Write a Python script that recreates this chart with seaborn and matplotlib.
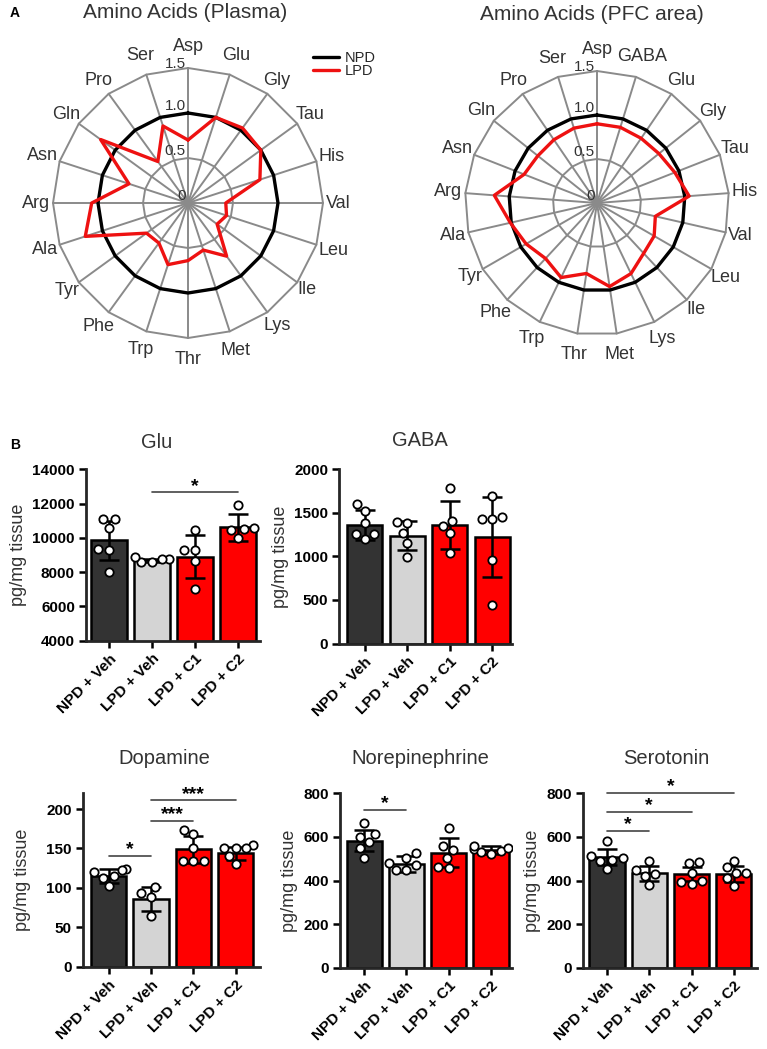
import numpy as np
import pandas as pd
import matplotlib
matplotlib.use('Agg')
import matplotlib.pyplot as plt
from matplotlib.lines import Line2D
import seaborn as sns

# ---------------- data ----------------
plasma_labels = ['Asp', 'Glu', 'Gly', 'Tau', 'His', 'Val', 'Leu', 'Ile', 'Lys', 'Met',
                 'Thr', 'Trp', 'Phe', 'Tyr', 'Ala', 'Arg', 'Asn', 'Gln', 'Pro', 'Ser']
plasma_npd = [1.0, 1.0, 1.0, 1.0, 1.0, 1.0, 1.0, 1.0, 1.0, 1.0,
              1.0, 1.0, 1.0, 1.0, 1.0, 1.0, 1.0, 1.0, 1.0, 1.0]
plasma_lpd = [0.70, 1.00, 1.03, 1.00, 0.84, 0.42, 0.45, 0.40, 0.73, 0.55,
              0.64, 0.72, 0.55, 0.57, 1.20, 1.07, 0.69, 1.20, 0.57, 0.90]

pfc_labels = ['Asp', 'GABA', 'Glu', 'Gly', 'Tau', 'His', 'Val', 'Leu', 'Ile', 'Lys', 'Met',
              'Thr', 'Trp', 'Phe', 'Tyr', 'Ala', 'Arg', 'Asn', 'Gln', 'Pro', 'Ser']
pfc_npd = [1.0, 1.0, 1.0, 1.0, 1.0, 1.0, 1.0, 1.0, 1.0, 1.0, 1.0,
           1.0, 1.0, 1.0, 1.0, 1.0, 1.0, 1.0, 1.0, 1.0, 1.0]
pfc_lpd = [0.90, 0.90, 0.89, 0.90, 0.95, 1.05, 0.68, 0.75, 0.78, 0.89, 0.96,
           0.81, 0.94, 0.86, 0.93, 1.01, 1.17, 0.89, 0.86, 0.87, 0.89]

groups = ['NPD + Veh', 'LPD + Veh', 'LPD + C1', 'LPD + C2']
bar_colors = ['#333333', '#d4d4d4', '#ff0000', '#ff0000']

glu_mean = [9850, 8680, 8900, 10620]
glu_sd = [1150, 100, 1250, 780]
glu_pts = [[11100, 11100, 10600, 9350, 9300, 8000],
           [8580, 8850, 8780, 8780, 8560],
           [10430, 9270, 9270, 8640, 7030],
           [11900, 10450, 10600, 10500, 10000]]
glu_sig = [(1, 3, 12650, '*')]

gaba_mean = [1362, 1238, 1362, 1227]
gaba_sd = [172, 170, 272, 458]
gaba_pts = [[1517, 1598, 1379, 1256, 1195, 1256],
            [1400, 1380, 1267, 1159, 993],
            [1782, 1353, 1411, 1267, 1037],
            [1695, 1428, 1457, 1428, 957, 437]]
gaba_sig = []

da_mean = [115, 86, 149, 144]
da_sd = [9, 15.5, 17, 8]
da_pts = [[120, 124, 123, 115, 113, 102],
          [101, 93, 89, 64],
          [168, 173, 151, 134, 134, 134],
          [150, 154, 151, 151, 140, 130]]
da_sig = [(0, 1, 141, '*'), (1, 2, 185, '***'), (1, 3, 211, '***')]

ne_mean = [583, 476, 528, 540]
ne_sd = [47, 35, 67, 18]
ne_pts = [[662, 612, 600, 575, 548, 505],
          [525, 505, 480, 470, 450, 448],
          [640, 558, 540, 502, 460, 456],
          [545, 560, 520, 530, 535, 550]]
ne_sig = [(0, 1, 724, '*')]

ser_mean = [506, 433, 430, 430]
ser_sd = [37, 34, 31, 36]
ser_pts = [[580, 512, 505, 495, 490, 455],
           [490, 448, 430, 420, 378],
           [485, 480, 435, 400, 395, 385],
           [491, 436, 436, 460, 410, 375]]
ser_sig = [(0, 1, 629, '*'), (0, 2, 716, '*'), (0, 3, 803, '*')]

# ---------------- style ----------------
W, H = 767, 1049
sns.set_style('ticks')
plt.rcParams['font.family'] = ['Liberation Sans', 'DejaVu Sans']
TXT = '#333333'
GRID = '#8a8a8a'
RED_LINE = '#ee1111'

fig = plt.figure(figsize=(W / 100, H / 100), dpi=100)


def px_rect(left, top, right, bottom):
    return [left / W, 1 - bottom / H, (right - left) / W, (bottom - top) / H]


def radar(cx, cy, R, labels, npd, lpd):
    ax = fig.add_axes(px_rect(cx - R, cy - R, cx + R, cy + R), projection='polar')
    n = len(labels)
    theta = np.linspace(0, 2 * np.pi, n, endpoint=False)
    tclosed = np.append(theta, 2 * np.pi)
    ax.set_theta_zero_location('N')
    ax.set_theta_direction(-1)
    for r in (0.5, 1.0, 1.5):
        ax.plot(tclosed, np.full(n + 1, r), color=GRID, lw=1.4, zorder=1, clip_on=False)
    for t in theta:
        ax.plot([t, t], [0, 1.5], color=GRID, lw=1.4, zorder=1, clip_on=False)
    df = pd.DataFrame({'theta': tclosed,
                       'NPD': np.append(npd, npd[0]),
                       'LPD': np.append(lpd, lpd[0])})
    sns.lineplot(data=df, x='theta', y='NPD', ax=ax, color='black', lw=2.4,
                 sort=False, zorder=3, clip_on=False)
    sns.lineplot(data=df, x='theta', y='LPD', ax=ax, color=RED_LINE, lw=2.4,
                 sort=False, zorder=4, clip_on=False)
    ax.set_ylim(0, 1.5)
    ax.set_axis_off()
    for v, s, dy in zip([0, 0.5, 1.0, 1.5], ['0', '0.5', '1.0', '1.5'], [0, 0, 0, -2]):
        ax.annotate(s, xy=(0, v), xytext=(-1.5, dy), textcoords='offset points',
                    ha='right', va='bottom', fontsize=11, color=TXT, zorder=2,
                    annotation_clip=False)
    texts = []
    for lab, t in zip(labels, theta):
        tx = ax.text(t, 1.5, lab, ha='center', va='center', fontsize=13,
                     color=TXT, clip_on=False)
        texts.append((tx, t))
    return ax, texts, R


def bar_panel(rect_px, title, title_px, means, sds, pts, ylim, yticks, xlim,
              sigs, ylabelpad):
    ax = fig.add_axes(px_rect(*rect_px))
    bar_df = pd.DataFrame({'group': groups, 'mean': means})
    sns.barplot(data=bar_df, x='group', y='mean', hue='group', order=groups,
                hue_order=groups, palette=dict(zip(groups, bar_colors)),
                legend=False, width=0.83, edgecolor='black', linewidth=1.8,
                saturation=1, errorbar=None, ax=ax, zorder=2)
    ax.errorbar(np.arange(len(groups)), means, yerr=sds, fmt='none', ecolor='black',
                elinewidth=1.8, capsize=7, capthick=1.8, zorder=3)
    pts_df = pd.DataFrame({
        'group': [g for g, vals in zip(groups, pts) for _ in vals],
        'value': [v for vals in pts for v in vals]})
    sns.swarmplot(data=pts_df, x='group', y='value', order=groups, color='white',
                  edgecolor='black', linewidth=1.3, size=6, ax=ax, zorder=4)
    ax.set_xlim(*xlim)
    ax.set_ylim(*ylim)
    ax.set_yticks(yticks)
    ax.set_yticklabels([str(v) for v in yticks])
    ax.set_xticks(range(len(groups)))
    ax.set_xticklabels(groups, rotation=45, ha='right', rotation_mode='anchor')
    ax.tick_params(axis='both', direction='out', length=5, width=1.8,
                   labelsize=11, pad=3, colors='black')
    for lab in ax.get_xticklabels() + ax.get_yticklabels():
        lab.set_fontweight('bold')
    ax.set_xlabel('')
    ax.set_ylabel('pg/mg tissue', fontsize=13, color=TXT, labelpad=ylabelpad)
    sns.despine(ax=ax)
    for s in ('left', 'bottom'):
        ax.spines[s].set_linewidth(2.0)
    for a, b, y, star in sigs:
        ax.plot([a, b], [y, y], color='#444444', lw=1.2, clip_on=False, zorder=5)
        ax.annotate(star, xy=((a + b) / 2, y), xytext=(0, 1),
                    textcoords='offset points', ha='center', va='baseline',
                    fontsize=14, fontweight='bold', color='black',
                    annotation_clip=False)
    fig.text(title_px[0] / W, 1 - title_px[1] / H, title, ha='center', va='center',
             fontsize=14.5, color=TXT)
    return ax


# ---------------- panel A ----------------
ax_pl, txt_pl, R_pl = radar(188, 203, 135, plasma_labels, plasma_npd, plasma_lpd)
ax_pf, txt_pf, R_pf = radar(597, 203, 132, pfc_labels, pfc_npd, pfc_lpd)

fig.text(185 / W, 1 - 13 / H, 'Amino Acids (Plasma)', ha='center', va='center',
         fontsize=15, color=TXT)
fig.text(592 / W, 1 - 15 / H, 'Amino Acids (PFC area)', ha='center', va='center',
         fontsize=15, color=TXT)

fig.legend(handles=[Line2D([0], [0], color='black', lw=2.4),
                    Line2D([0], [0], color=RED_LINE, lw=2.4)],
           labels=['NPD', 'LPD'], loc='upper left',
           bbox_to_anchor=(313 / W, 1 - 51 / H), frameon=False, fontsize=10.5,
           handlelength=1.8, handletextpad=0.4, labelspacing=-0.08,
           borderpad=0, borderaxespad=0)

fig.text(10 / W, 1 - 13 / H, 'A', ha='left', va='center', fontsize=10,
         fontweight='bold', color='black')
fig.text(10 / W, 1 - 445 / H, 'B', ha='left', va='center', fontsize=10,
         fontweight='bold', color='black')

# ---------------- panel B ----------------
bar_panel((86, 469.3, 260, 640.5), 'Glu', (157, 443), glu_mean, glu_sd, glu_pts,
          (4000, 14000), [4000, 6000, 8000, 10000, 12000, 14000], (-0.535, 3.51),
          glu_sig, 4)
bar_panel((339.3, 469.3, 511.7, 643.5), 'GABA', (420, 441), gaba_mean, gaba_sd,
          gaba_pts, (0, 2000), [0, 500, 1000, 1500, 2000], (-0.6, 3.46), gaba_sig, 4)
bar_panel((82.7, 793.3, 260, 966.7), 'Dopamine', (164.5, 758), da_mean, da_sd, da_pts,
          (0, 220), [0, 50, 100, 150, 200], (-0.61, 3.57), da_sig, 11)
bar_panel((340, 793.3, 511.7, 967.7), 'Norepinephrine', (420, 759), ne_mean, ne_sd,
          ne_pts, (0, 800), [0, 200, 400, 600, 800], (-0.57, 3.49), ne_sig, 4)
bar_panel((583.3, 793.3, 756.7, 967.7), 'Serotonin', (666, 758), ser_mean, ser_sd,
          ser_pts, (0, 800), [0, 200, 400, 600, 800], (-0.56, 3.54), ser_sig, 4)

# ---------------- place radar category labels ----------------
fig.canvas.draw()
renderer = fig.canvas.get_renderer()
for texts, R in ((txt_pl, R_pl), (txt_pf, R_pf)):
    for tx, t in texts:
        bb = tx.get_window_extent(renderer)
        w, h = bb.width, bb.height
        d = (R + 3 + np.hypot(0.5 * w * np.sin(t), 0.5 * h * np.cos(t))
             + 10 * abs(np.cos(t)) ** 6)
        tx.set_position((t, 1.5 * d / R))

fig.savefig('out.png', dpi=100)
